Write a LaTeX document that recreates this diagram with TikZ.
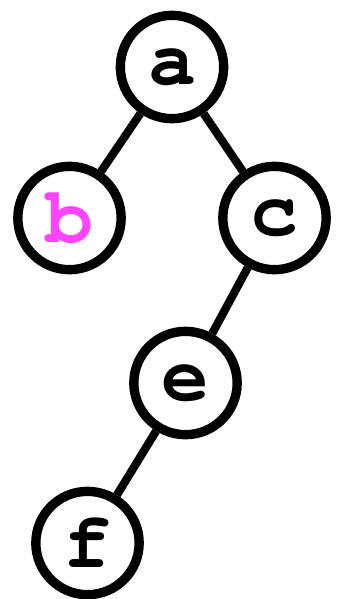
\documentclass[tikz,border=0pt]{standalone}
\usepackage{xcolor}
\usepackage{fontspec}
\setmonofont{texgyrecursor}[Extension=.otf, UprightFont=*-regular, BoldFont=*-bold]
\usepackage{tikz}
\usetikzlibrary{positioning}

\definecolor{leafpink}{HTML}{FF44FF}

\begin{document}
\begin{tikzpicture}[
    x=0.03cm, y=-0.03cm,
    every node/.style={draw, circle, line width=8pt, minimum size=3.1cm, inner sep=0pt, font=\ttfamily\bfseries\fontsize{68}{72}\selectfont},
    edge from parent/.style={draw, line width=7pt},
    grow=down,
    level 1/.style={level distance=4.53cm, sibling distance=6.15cm},
    level 2/.style={level distance=4.95cm, sibling distance=5.34cm},
    level 3/.style={level distance=4.8cm, sibling distance=5.88cm}
]
\useasboundingbox (0,0) rectangle (348,599);
\node (a) at (172,67) {a}
    child { node[text=leafpink] (b) {b} }
    child { node (c) {c}
        child { node (e) {e}
            child { node (f) {f} }
            child[missing] }
        child[missing] };
\end{tikzpicture}
\end{document}
